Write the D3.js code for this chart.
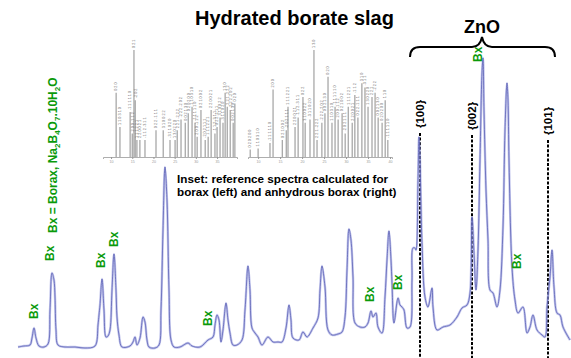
<!DOCTYPE html>
<html><head><meta charset="utf-8">
<script src="https://cdn.jsdelivr.net/npm/d3@7"></script>
<style>
body{margin:0;background:#fff}
svg{display:block;background:#fff}
text{font-family:"Liberation Sans",Arial,Helvetica,sans-serif;font-weight:bold}
</style>
</head><body>
<svg id="c" width="571" height="358"></svg>
<script>
// ---- main pattern (channel, counts) ----
const channel = [18,24,30,32,34,36,39,44,48,50,52,54,55,56,58,65,75,85,95,98,99,100,102,104,106,108,110,112,114,116,117,119,122,130,133,135,137,140,143,145,147,149,155,159,161,163,165,167,169,171,174,180,188,192,200,208,213,215,217,219,221,223,226,228,230,233,237,242,245,248,250,252,255,258,262,268,273,278,282,286,289,291,293,299,303,307,313,318,320,322,325,328,332,338,342,345,347,349,351,353,355,360,365,368,371,373,376,378,382,385,387,389,391,392,394,398,400,402,404,407,410,412,413,415,416,418,419,420,422,425,428,432,433,437,443,450,457,462,467,470,472,474,476,478,480,482,483,484,486,488,490,493,497,500,503,505,507,508,509,512,515,518,523,527,530,533,537,542,545,547,550,552,554,557,560,563,570];
const counts  = [3,4,5,12,22,12,4,3,6,40,77,70,53,20,5,3,3,2,4,25,35,45,71,40,13,14,20,60,96,60,33,15,3,4,8,13,5,12,33,28,10,3,2,5,40,120,183,150,60,10,3,3,7,4,3,10,13,25,35,30,8,20,47,30,17,5,5,10,40,84,60,22,17,13,5,13,8,8,8,22,45,30,12,10,18,13,22,32,60,84,63,20,15,16,18,33,80,121,110,73,27,23,23,27,39,33,37,23,17,53,90,119,90,67,27,52,45,43,40,22,23,70,102,102,100,170,213,190,107,53,43,62,43,20,23,25,33,42,45,57,133,97,60,100,190,277,292,240,160,110,60,57,43,60,123,220,267,250,190,83,50,37,43,17,23,35,20,15,13,43,73,100,63,37,35,23,10];

// ---- Bx labels (peak channel, label level) ----
const bxChannel = [33.5,50,100.5,114,207.5,370,398,517,478];
const bxLevel   = [31,89,82,103,24,48,60,81,288];

// ---- ZnO reflections ----
const znoHkl     = ["{100}","{002}","{101}"];
const znoChannel = [420,472,548];
const znoLevel   = [222,220,215];

// ---- inset reference sticks ----
const leftPos = [11.2,12.1,14.5,15.0,15.4,15.7,16.1,16.8,18.0,20.6,22.3,23.9,25.1,25.6,26.5,27.5,28.2,29.1,29.8,30.3,31.2,32.2,32.9,33.6,34.5,35.0,35.7,36.4,36.9,37.4,38.1,38.8,39.2];
const leftInt = [60,28,42,22,100,53,16,16,16,25,25,16,16,25,35,32,41,47,32,19,44,16,19,44,22,28,37,32,60,47,44,32,50];
const rightPos = [8.2,10.0,12.7,13.4,15.5,16.4,16.8,18.4,19.1,20.2,20.7,21.8,22.7,23.4,24.5,25.2,25.9,26.8,27.5,28.2,29.1,29.8,30.5,31.4,32.0,32.7,33.6,34.3,35.0,35.9,36.6,37.3,38.2,38.9,39.5];
const rightInt = [7,8,13,63,16,25,47,28,37,56,32,35,100,16,32,41,75,32,47,35,41,22,47,32,58,37,69,65,47,56,60,37,32,53,16];
const insetTicks = [10,15,20,25,30,35,40];
const hklPool = ["0 2 0","1 1 0","-1 1 1","2 0 0","0 2 1","-2 0 2","1 1 1","2 2 0","-1 1 2","0 2 2","3 1 0","-3 1 1","1 3 0","2 2 1","-2 2 2","0 0 2"];

const svg = d3.select("#c");
const W = 571, H = 358;

const x = d3.scaleLinear().domain([0, 571]).range([0, W]);
const y = d3.scaleLinear().domain([0, 350]).range([350, 0]);

// ---- inset ----
function inset(pos, ints, xr, domain, nTicks){
  const xs = d3.scaleLinear().domain(domain).range(xr);
  const ys = d3.scaleLinear().domain([0,100]).range([157, 50]);
  const g = svg.append("g");
  g.selectAll("line.s").data(pos).join("line")
    .attr("x1", d=>xs(d)).attr("x2", d=>xs(d))
    .attr("y1", ys(0)).attr("y2", (d,i)=>ys(ints[i]))
    .attr("stroke", "#8a8a8a").attr("stroke-width", 1.2).attr("opacity", 0.8);
  g.selectAll("text.h").data(pos).join("text")
    .attr("transform", (d,i)=>`translate(${xs(d)+1.3},${ys(ints[i])-2}) rotate(-90)`)
    .attr("font-size", 3.8).attr("fill", "#666").style("font-weight","normal")
    .text((d,i)=> hklPool[i % hklPool.length] + (ints[i] < 50 ? "  " + hklPool[(i*7+3) % hklPool.length] : ""));
  const axis = d3.axisBottom(xs).tickValues(insetTicks.slice(0,nTicks)).tickSize(2).tickPadding(1);
  const ax = g.append("g").attr("transform", "translate(0,157)").call(axis);
  ax.select(".domain").attr("stroke", "#999").attr("stroke-width", 0.8);
  ax.selectAll(".tick line").attr("stroke", "#999");
  ax.selectAll(".tick text").attr("font-size", 3.6).attr("fill", "#999").style("font-weight","normal");
}
inset(leftPos, leftInt, [103, 237], [8.1, 39.7], 6);
inset(rightPos, rightInt, [248, 392], [7.7, 40.45], 7);

// ---- ZnO dashed markers ----
svg.selectAll("line.zno").data(znoChannel).join("line")
  .attr("x1", d=>x(d)).attr("x2", d=>x(d))
  .attr("y1", (d,i)=>y(znoLevel[i]-5)).attr("y2", H)
  .attr("stroke", "#000").attr("stroke-width", 2).attr("stroke-dasharray", "3,1.6");

// ---- main pattern ----
const pts = channel.map((c,i)=>[c, counts[i]]);
const line = d3.line().x(d=>x(d[0])).y(d=>y(d[1])).curve(d3.curveCatmullRom.alpha(0.5));
svg.append("path").datum(pts).attr("d", line)
  .attr("fill","none").attr("stroke","#9a9ee0").attr("stroke-width",2.4).attr("opacity",0.6);
svg.append("path").datum(pts).attr("d", line)
  .attr("fill","none").attr("stroke","#5d62b5").attr("stroke-width",1).attr("opacity",0.8);

// ---- hkl labels ----
svg.selectAll("text.hkl").data(znoHkl).join("text")
  .attr("transform",(d,i)=>`translate(${x(znoChannel[i])},${y(znoLevel[i])}) rotate(-90)`)
  .attr("dy","0.36em").attr("font-size",11.5).attr("fill","#000")
  .text(d=>d);

// ---- Bx labels ----
svg.selectAll("text.bx").data(bxChannel).join("text")
  .attr("transform",(d,i)=>`translate(${x(d)},${y(bxLevel[i])}) rotate(-90)`)
  .attr("dy","0.36em").attr("font-size",12).attr("fill","#0a9a0a")
  .text("Bx");

// long legend label
const lg = svg.append("text")
  .attr("transform",`translate(${x(53)},${y(117)}) rotate(-90)`)
  .attr("dy","0.36em").attr("font-size",12).attr("fill","#0a9a0a");
const parts = [["Bx = Borax, Na",0],["2",1],["B",0],["4",1],["O",0],["7",1],[".10H",0],["2",1],["O",0]];
parts.forEach(([t,s])=>{
  lg.append("tspan").attr("font-size", s?8:12).attr("baseline-shift", s?"-3":"0").text(t);
});

// ---- brace ----
const b0 = x(410), b1 = x(555), bc = x(482);
const bp = d3.path();
bp.moveTo(b0, 57); bp.quadraticCurveTo(b0, 47, b0+10, 47);
bp.lineTo(bc-10, 47); bp.quadraticCurveTo(bc-2, 47, bc, 37);
bp.quadraticCurveTo(bc+2, 47, bc+10, 47);
bp.lineTo(b1-10, 47); bp.quadraticCurveTo(b1, 47, b1, 57);
svg.append("path").attr("d", bp.toString()).attr("fill","none").attr("stroke","#000").attr("stroke-width",2);

svg.append("text").attr("x", bc).attr("y", 33).attr("text-anchor","middle")
  .attr("font-size",18).attr("fill","#000").text("ZnO");

// ---- title & inset caption ----
svg.append("text").attr("x", 294.5).attr("y", 25).attr("text-anchor","middle")
  .attr("font-size",20).attr("fill","#000").text("Hydrated borate slag");
const cap = svg.append("text").attr("font-size",11.7).attr("fill","#000");
cap.append("tspan").attr("x",177).attr("y",183).text("Inset: reference spectra calculated for");
cap.append("tspan").attr("x",177).attr("y",196).text("borax (left) and anhydrous borax (right)");
</script>
</body></html>
